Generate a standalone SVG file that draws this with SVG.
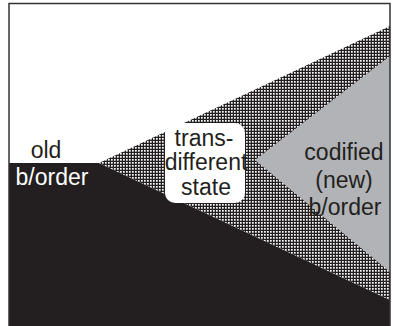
<svg xmlns="http://www.w3.org/2000/svg" width="394" height="326" viewBox="0 0 394 326">
<defs>
<pattern id="dots" width="3" height="3" patternUnits="userSpaceOnUse">
<rect width="3" height="3" fill="#231f20"/>
<rect width="1.7" height="1.7" fill="#ffffff"/>
</pattern>
<style>
.lbl{font-family:"Liberation Sans",Arial,sans-serif;font-size:23px;text-anchor:middle}
.w{fill:#ffffff}
.d{fill:#231f20}
</style>
</defs>
<rect x="0" y="0" width="394" height="326" fill="#ffffff"/>
<g id="old-border">
<polygon points="9,163 99,163 390,300 390,326 9,326" fill="#231f20"/>
<text class="lbl d" x="46" y="158">old</text>
<text class="lbl w" x="52" y="185">b/order</text>
</g>
<g id="trans-different-state">
<polygon points="99,163 390,26 390,300" fill="url(#dots)"/>
<rect x="165" y="123" width="80" height="80" rx="10" fill="#ffffff"/>
<text class="lbl d" x="204" y="146">trans-</text>
<text class="lbl d" x="206" y="170">different</text>
<text class="lbl d" x="206" y="195">state</text>
</g>
<g id="codified-border">
<polygon points="255,160 390,56 390,272" fill="#b1b3b6"/>
<text class="lbl d" x="344" y="160">codified</text>
<text class="lbl d" x="344" y="188">(new)</text>
<text class="lbl d" x="345" y="215">b/order</text>
</g>
<g id="connectors"/>
<rect x="9" y="3.5" width="381" height="330" fill="none" stroke="#333333" stroke-width="1.5"/>
</svg>
